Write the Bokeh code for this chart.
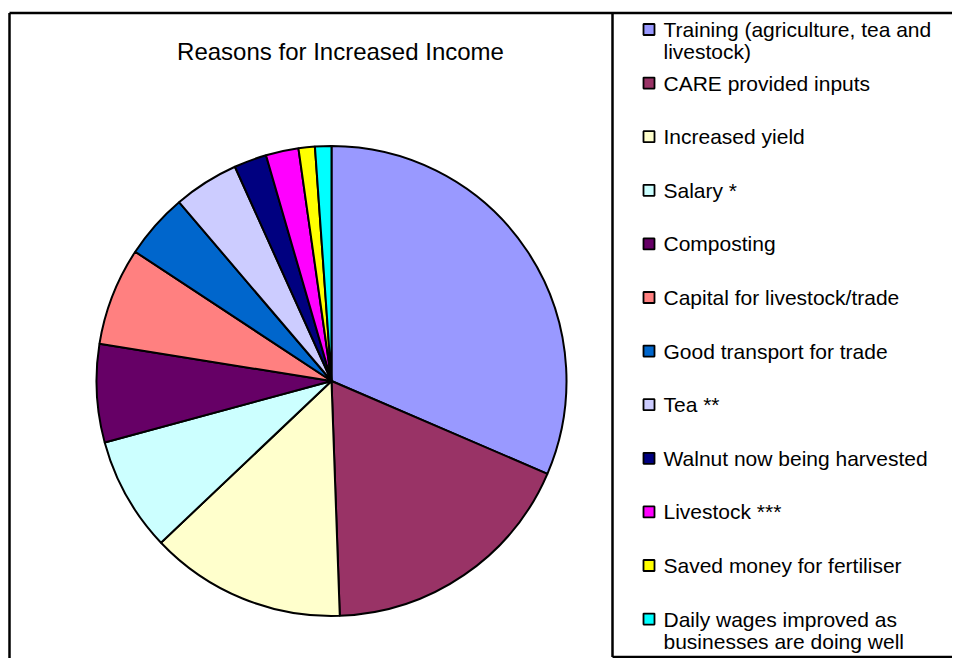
import math
from bokeh.plotting import figure
from bokeh.models import Range1d
from bokeh.core.properties import value
from bokeh.embed import file_html
from bokeh.resources import INLINE

# ---- data ----
title_text = "Reasons for Increased Income"
categories = [
    "Training (agriculture, tea and\nlivestock)",
    "CARE provided inputs",
    "Increased yield",
    "Salary *",
    "Composting",
    "Capital for livestock/trade",
    "Good transport for trade",
    "Tea **",
    "Walnut now being harvested",
    "Livestock ***",
    "Saved money for fertiliser",
    "Daily wages improved as\nbusinesses are doing well",
]
counts = [28, 16, 12, 7, 6, 6, 4, 4, 2, 2, 1, 1]
colors = ["#9999FF", "#993366", "#FFFFCC", "#CCFFFF", "#660066", "#FF8080",
          "#0066CC", "#CCCCFF", "#000080", "#FF00FF", "#FFFF00", "#00FFFF"]

W, H = 952, 658
FONT = value("Liberation Sans")

def px(x):  # picture x -> data x
    return x

def py(y):  # picture y -> data y
    return H - y

p = figure(width=W, height=H, output_backend="svg", toolbar_location=None,
           x_range=Range1d(0, W), y_range=Range1d(0, H), min_border=0)
p.axis.visible = False
p.grid.visible = False
p.outline_line_color = None
p.background_fill_color = "white"
p.border_fill_color = "white"

# ---- frames ----
p.segment(x0=[px(9), px(9)], y0=[py(12.5), py(12.5)],
          x1=[px(970), px(9)], y1=[py(12.5), py(680)],
          line_color="black", line_width=2.5)
p.segment(x0=[px(612), px(612)], y0=[py(13.5), py(656.5)],
          x1=[px(612), px(970)], y1=[py(656.5), py(656.5)],
          line_color="black", line_width=2.5)

# ---- pie ----
total = float(sum(counts))
cx, cy, r = px(331), py(380.5), 235
starts, ends = [], []
cum = 0.0
for v in counts:
    starts.append(math.pi / 2 - 2 * math.pi * cum / total)
    cum += v
    ends.append(math.pi / 2 - 2 * math.pi * cum / total)
p.wedge(x=[cx] * len(counts), y=[cy] * len(counts), radius=r,
        start_angle=starts, end_angle=ends, direction="clock",
        fill_color=colors, line_color="black", line_width=2)

# ---- title ----
p.text(x=[px(340)], y=[py(51)], text=[title_text], text_font=FONT,
       text_font_size="24px", text_color="black", text_align="center",
       text_baseline="middle")

# ---- legend ----
y0, step = 29, 53.6
mx, tx = px(648.5), px(663)
for i, (lab, col) in enumerate(zip(categories, colors)):
    yy = y0 + i * step
    p.rect(x=[mx], y=[py(yy)], width=11, height=11, width_units="screen",
           height_units="screen", fill_color=col, line_color="black",
           line_width=1.8)
    for j, line in enumerate(lab.split("\n")):
        p.text(x=[tx], y=[py(yy + j * 22)], text=[line], text_font=FONT,
               text_font_size="21px", text_color="black", text_align="left",
               text_baseline="middle")

open("out.html", "w").write(file_html(p, INLINE))
